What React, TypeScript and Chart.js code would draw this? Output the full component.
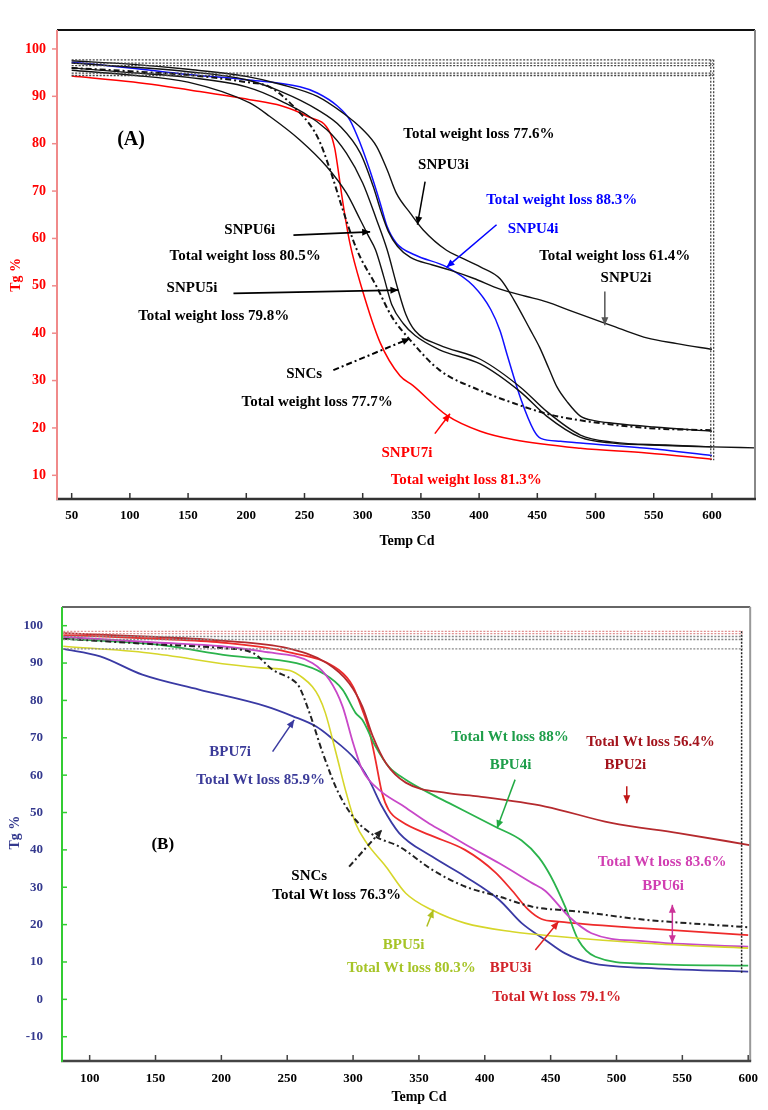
import React, { useEffect, useRef } from 'react';
import { Chart, registerables } from 'chart.js';
Chart.register(...registerables);

const FONT = "'Liberation Serif', 'Times New Roman', serif";

// ---------------- Panel A data ----------------
const xTicksA = [50, 100, 150, 200, 250, 300, 350, 400, 450, 500, 550, 600];
const yTicksA = [10, 20, 30, 40, 50, 60, 70, 80, 90, 100];

const snpu2iT = [50, 100, 150, 200, 230, 261, 281, 298, 309, 316, 322, 330, 341, 360, 375, 395, 418, 440, 458, 480, 506, 525, 544, 570, 600];
const snpu2iV = [97, 96.2, 95.2, 93.5, 91, 87.2, 83.6, 78, 71, 65.5, 61.5, 58.3, 56, 54.4, 53.3, 51.6, 49.3, 47.8, 46.6, 44.6, 42.3, 40.6, 39, 37.8, 36.6];

const snpu3iT = [50, 100, 150, 200, 230, 261, 283, 300, 312, 321, 329, 341, 352, 372, 384, 401, 418, 430, 444, 452, 460, 467, 476, 487, 500, 515, 550, 600];
const snpu3iV = [97.5, 96.8, 95.7, 94.2, 92.5, 90, 86.5, 83, 79.4, 74.5, 69.5, 65.3, 61.8, 57.5, 56, 54, 51.5, 47, 40.7, 37, 32.5, 28.6, 25.4, 22.5, 21.5, 21, 20.2, 19.3];

const snpu4iT = [50, 100, 150, 200, 246, 261, 278, 289, 298, 306, 315, 321, 329, 345, 372, 395, 410, 418, 424, 436, 447, 453, 470, 487, 544, 600];
const snpu4iV = [97.2, 96, 94.6, 93.5, 92, 90.7, 88, 85, 80, 74.5, 67.5, 62.5, 59, 56.5, 54, 50, 45, 40.5, 35.5, 26, 19.5, 17.8, 17.2, 16.8, 15.7, 14.2];

const snpu5iT = [50, 100, 150, 200, 230, 269, 286, 300, 312, 321, 330, 337, 345, 366, 401, 436, 458, 487, 515, 560, 600, 637];
const snpu5iV = [96, 95, 94, 92, 89, 83, 78, 71.7, 63.9, 57.6, 49.5, 44, 40.5, 37.5, 34.5, 28.5, 23.5, 18.5, 17, 16.4, 16, 15.8];

const snpu6iT = [50, 100, 150, 203, 220, 246, 269, 286, 298, 305, 311, 318, 325, 335, 345, 366, 401, 436, 458, 487, 515, 560, 600];
const snpu6iV = [95.5, 94.5, 93, 88.6, 85.8, 80.8, 75.2, 69.6, 63.9, 60.5, 57.6, 52, 46, 42, 39.5, 36.5, 33.5, 27.5, 22.5, 18, 16.8, 16.3, 16];

const snpu7iT = [50, 103, 160, 203, 230, 252, 272, 276, 278, 283, 289, 299, 315, 332, 343, 372, 401, 430, 487, 544, 600];
const snpu7iV = [94.3, 93, 91, 89.3, 88, 85.8, 82.3, 79, 76, 67.5, 59, 49.7, 38, 31, 29, 22.7, 19.3, 17.5, 15.7, 14.7, 13.4];

const sncsAT = [50, 100, 150, 200, 220, 240, 261, 272, 283, 295, 312, 325, 341, 366, 400, 430, 458, 487, 544, 600];
const sncsAV = [96, 95.3, 94.5, 93, 92, 88, 81.5, 74.5, 66, 57.6, 49.8, 43.5, 38.5, 32.2, 28, 25.2, 23, 21.6, 20, 19.5];

const frameAH = [97.7, 97.0, 96.5, 94.9, 94.4];
const frameAHT = [50, 601];
const frameAVT = [599, 601.5];
const frameAVV = [97.7, 13.2];

// ---------------- Panel B data ----------------
const xTicksB = [100, 150, 200, 250, 300, 350, 400, 450, 500, 550, 600];
const yTicksB = [-10, 0, 10, 20, 30, 40, 50, 60, 70, 80, 90, 100];

const bpu2iT = [80, 150, 200, 250, 280, 297, 307, 315, 325, 340, 372, 395, 446, 496, 547, 601];
const bpu2iV = [98, 97, 96, 94, 90, 84.6, 78.4, 70.4, 63.2, 58, 55.2, 54.3, 51.6, 47.2, 44.5, 41.3];

const bpu3iT = [80, 150, 200, 250, 289, 300, 307, 312, 317, 322, 327, 337, 358, 385, 408, 421, 433, 443, 456, 522, 600];
const bpu3iV = [97.5, 96.5, 95.5, 93, 88.2, 83.7, 77.5, 72.2, 64.1, 55.2, 50.7, 47.5, 44, 40, 34, 29, 24, 21.5, 20.8, 19, 17.2];

const bpu4iT = [80, 150, 206, 257, 277, 292, 302, 307, 317, 327, 340, 358, 373, 408, 428, 441, 450, 461, 471, 484, 522, 600];
const bpu4iV = [96.5, 95, 92, 90, 87.3, 82.9, 76.6, 74.8, 67.7, 62.3, 58.8, 55.2, 52.5, 46.2, 42.5, 38, 33, 24.8, 15.9, 11.4, 9.5, 9];

const bpu5iT = [80, 145, 206, 230, 252, 262, 269, 274, 279, 287, 295, 302, 310, 325, 340, 360, 385, 421, 456, 522, 600];
const bpu5iV = [94.5, 92.7, 89.6, 88.7, 88, 86, 83.7, 81, 76.6, 66, 55, 47, 42, 35.5, 28.4, 23.9, 20.4, 18.1, 16.8, 15, 13.7];

const bpu6iT = [80, 150, 200, 231, 269, 282, 292, 300, 307, 320, 337, 358, 373, 385, 411, 436, 446, 464, 481, 522, 600];
const bpu6iV = [97, 95.5, 94.5, 93.1, 90, 85.5, 78.4, 68.6, 61.4, 56, 52, 47, 44, 41.5, 36.4, 31.1, 29, 22.1, 17.7, 15.5, 14.1];

const bpu7iT = [80, 108, 140, 183, 234, 254, 272, 282, 302, 312, 322, 335, 360, 385, 411, 428, 446, 461, 481, 522, 600];
const bpu7iV = [93.8, 91.8, 86.9, 82.9, 78.4, 75.8, 73, 70.4, 64.1, 58.8, 51.6, 44.5, 38.2, 32.9, 26.6, 20.4, 15.9, 12.3, 9.7, 8.4, 7.4];

const sncsBT = [80, 150, 200, 224, 239, 254, 259, 267, 277, 289, 302, 317, 335, 360, 385, 411, 436, 471, 522, 600];
const sncsBV = [96.5, 95, 94, 92.7, 88.2, 85.5, 83.7, 76.6, 65.9, 55.2, 48, 43.6, 40.9, 34.7, 30.2, 27.5, 24.8, 23.5, 21.3, 19.3];

const frameBH = [98.5, 97.9, 97.1, 96.3, 93.8];
const frameBHT = [80, 596];
const frameBVT = [595];
const frameBVV = [98.5, 7];

// ---------------- annotations ----------------
type Label = { text: string; x: number; y: number; color: string; size?: number };
type Arrow = { from: [number, number]; to: [number, number]; color: string; dash?: number[]; both?: boolean; w?: number };

const labelsA: Label[] = [
  { text: '(A)', x: 101, y: 80.8, color: '#000', size: 20 },
  { text: 'Total weight loss 77.6%', x: 399.8, y: 82, color: '#000' },
  { text: 'SNPU3i', x: 369.4, y: 75.4, color: '#000' },
  { text: 'Total weight loss 88.3%', x: 471, y: 68.1, color: '#0000ff' },
  { text: 'SNPU4i', x: 446.4, y: 62, color: '#0000ff' },
  { text: 'Total weight loss 61.4%', x: 516.5, y: 56.3, color: '#000' },
  { text: 'SNPU2i', x: 526.2, y: 51.7, color: '#000' },
  { text: 'SNPU6i', x: 203, y: 61.8, color: '#000' },
  { text: 'Total weight loss 80.5%', x: 199, y: 56.2, color: '#000' },
  { text: 'SNPU5i', x: 153.4, y: 49.5, color: '#000' },
  { text: 'Total weight loss 79.8%', x: 172, y: 43.7, color: '#000' },
  { text: 'SNCs', x: 249.7, y: 31.3, color: '#000' },
  { text: 'Total weight loss 77.7%', x: 260.8, y: 25.4, color: '#000' },
  { text: 'SNPU7i', x: 338, y: 14.7, color: '#ff0000' },
  { text: 'Total weight loss 81.3%', x: 389, y: 8.9, color: '#ff0000' },
];
const arrowsA: Arrow[] = [
  { from: [353.6, 72], to: [347, 62.9], color: '#000' },
  { from: [415, 62.9], to: [372, 53.9], color: '#0000ff' },
  { from: [508, 48.8], to: [508, 41.7], color: '#555' },
  { from: [240.5, 60.7], to: [306.4, 61.4], color: '#000', w: 1.8 },
  { from: [189, 48.4], to: [330.7, 49.1], color: '#000', w: 1.8 },
  { from: [274.8, 32.2], to: [340.7, 38.9], color: '#000', dash: [6, 3, 2, 3], w: 2 },
  { from: [362, 18.8], to: [375, 23], color: '#ff0000' },
];

const labelsB: Label[] = [
  { text: '(B)', x: 155.5, y: 41.3, color: '#000', size: 17 },
  { text: 'BPU7i', x: 206.7, y: 66.2, color: '#3b3b99' },
  { text: 'Total Wt loss 85.9%', x: 229.8, y: 58.8, color: '#3b3b99' },
  { text: 'SNCs', x: 266.7, y: 33.1, color: '#000' },
  { text: 'Total Wt loss 76.3%', x: 287.5, y: 28, color: '#000' },
  { text: 'BPU5i', x: 338.4, y: 14.6, color: '#a6c427' },
  { text: 'Total Wt loss 80.3%', x: 344.3, y: 8.4, color: '#a6c427' },
  { text: 'BPU3i', x: 419.5, y: 8.3, color: '#d2232a' },
  { text: 'Total Wt loss 79.1%', x: 454.5, y: 0.7, color: '#d2232a' },
  { text: 'Total Wt loss 88%', x: 419.1, y: 70.2, color: '#1e9e4a' },
  { text: 'BPU4i', x: 419.5, y: 62.6, color: '#1e9e4a' },
  { text: 'Total Wt loss 56.4%', x: 525.8, y: 68.8, color: '#a3131c' },
  { text: 'BPU2i', x: 506.7, y: 62.6, color: '#a3131c' },
  { text: 'Total Wt loss 83.6%', x: 534.6, y: 36.6, color: '#d13eb2' },
  { text: 'BPU6i', x: 535.4, y: 30.2, color: '#d13eb2' },
];
const arrowsB: Arrow[] = [
  { from: [238.9, 66.3], to: [255.3, 74.8], color: '#3a3aa0' },
  { from: [297, 35.5], to: [322, 45.4], color: '#222', dash: [6, 3, 2, 3], w: 2 },
  { from: [356, 19.5], to: [361, 24], color: '#b0c020' },
  { from: [438.4, 13.2], to: [456, 20.8], color: '#e02020' },
  { from: [423, 58.8], to: [409.3, 45.8], color: '#22aa44' },
  { from: [507.8, 57], to: [507.8, 52.5], color: '#c01818' },
  { from: [542.4, 25.3], to: [542.4, 15], color: '#cc3399', both: true },
];

// ---------------- helpers ----------------
const pts = (t: number[], v: number[]) => t.map((x, i) => ({ x, y: v[i] }));

function curve(label: string, t: number[], v: number[], color: string, width = 1.4, dash: number[] = []) {
  return {
    label, data: pts(t, v), borderColor: color, borderWidth: width, borderDash: dash,
    pointRadius: 0, showLine: true, fill: false, cubicInterpolationMode: 'monotone' as const,
  };
}
function straight(label: string, t: number[], v: number[], color: string, width = 1.3, dash: number[] = [2, 2]) {
  return { label, data: pts(t, v), borderColor: color, borderWidth: width, borderDash: dash, pointRadius: 0, showLine: true, fill: false, tension: 0 };
}

function drawArrow(ctx: CanvasRenderingContext2D, x1: number, y1: number, x2: number, y2: number, a: Arrow) {
  ctx.save();
  ctx.strokeStyle = a.color; ctx.fillStyle = a.color; ctx.lineWidth = a.w ?? 1.5;
  ctx.setLineDash(a.dash ?? []);
  ctx.beginPath(); ctx.moveTo(x1, y1); ctx.lineTo(x2, y2); ctx.stroke();
  ctx.setLineDash([]);
  const head = (fx: number, fy: number, tx: number, ty: number) => {
    const ang = Math.atan2(ty - fy, tx - fx);
    const L = 8, W = 3.5;
    ctx.beginPath();
    ctx.moveTo(tx, ty);
    ctx.lineTo(tx - L * Math.cos(ang) + W * Math.sin(ang), ty - L * Math.sin(ang) - W * Math.cos(ang));
    ctx.lineTo(tx - L * Math.cos(ang) - W * Math.sin(ang), ty - L * Math.sin(ang) + W * Math.cos(ang));
    ctx.closePath(); ctx.fill();
  };
  head(x1, y1, x2, y2);
  if (a.both) head(x2, y2, x1, y1);
  ctx.restore();
}

type OverlayOpts = {
  frame: { top: string; right: string; bottom: string; left: string };
  yTickIn: boolean;
  labels: Label[]; arrows: Arrow[];
  xTitle: { text: string; x: number; dy: number; color: string };
  yTitle: { text: string; px: number; y: number; color: string };
};

function makeOverlay(o: OverlayOpts) {
  return {
    id: 'overlay',
    afterDraw(chart: any) {
      const { ctx, chartArea: ca, scales } = chart;
      const xs = scales.x, ys = scales.y;
      ctx.save();
      const line = (x1: number, y1: number, x2: number, y2: number, c: string, w: number) => {
        ctx.beginPath(); ctx.strokeStyle = c; ctx.lineWidth = w; ctx.moveTo(x1, y1); ctx.lineTo(x2, y2); ctx.stroke();
      };
      line(ca.left, ca.top, ca.right, ca.top, o.frame.top, 2);
      line(ca.right, ca.top, ca.right, ca.bottom, o.frame.right, 2);
      line(ca.left - 1, ca.bottom, ca.right + 1, ca.bottom, o.frame.bottom, 2.5);
      line(ca.left, ca.top, ca.left, ca.bottom + 1, o.frame.left, 2);
      for (const t of xs.ticks) {
        const px = xs.getPixelForValue(t.value);
        line(px, ca.bottom, px, ca.bottom - 6, o.frame.bottom, 1.5);
      }
      for (const t of ys.ticks) {
        const py = ys.getPixelForValue(t.value);
        line(ca.left, py, ca.left + (o.yTickIn ? 5 : -5), py, o.frame.left, 1.5);
      }
      for (const a of o.arrows) {
        drawArrow(ctx, xs.getPixelForValue(a.from[0]), ys.getPixelForValue(a.from[1]),
          xs.getPixelForValue(a.to[0]), ys.getPixelForValue(a.to[1]), a);
      }
      ctx.textAlign = 'center'; ctx.textBaseline = 'middle';
      for (const l of o.labels) {
        ctx.font = `bold ${l.size ?? 15}px ${FONT}`;
        ctx.fillStyle = l.color;
        ctx.fillText(l.text, xs.getPixelForValue(l.x), ys.getPixelForValue(l.y));
      }
      ctx.font = `bold 14px ${FONT}`;
      ctx.fillStyle = o.xTitle.color;
      ctx.fillText(o.xTitle.text, xs.getPixelForValue(o.xTitle.x), ca.bottom + o.xTitle.dy);
      ctx.save();
      ctx.translate(o.yTitle.px, ys.getPixelForValue(o.yTitle.y));
      ctx.rotate(-Math.PI / 2);
      ctx.fillStyle = o.yTitle.color;
      ctx.fillText(o.yTitle.text, 0, 0);
      ctx.restore();
      ctx.restore();
    },
  };
}

function baseScales(p: {
  xmin: number; xmax: number; ymin: number; ymax: number; xt: number[]; yt: number[];
  yw: number; xh: number; ycolor: string; ysize: number; ypad: number; xpad: number;
}) {
  return {
    x: {
      type: 'linear' as const, min: p.xmin, max: p.xmax,
      afterBuildTicks: (s: any) => { s.ticks = p.xt.map((value) => ({ value })); },
      afterFit: (s: any) => { s.height = p.xh; },
      grid: { display: false, drawTicks: false }, border: { display: false },
      ticks: { font: { family: FONT, size: 13, weight: 'bold' as const }, color: '#000', padding: p.xpad, maxRotation: 0, autoSkip: false },
    },
    y: {
      type: 'linear' as const, min: p.ymin, max: p.ymax,
      afterBuildTicks: (s: any) => { s.ticks = p.yt.map((value) => ({ value })); },
      afterFit: (s: any) => { s.width = p.yw; },
      grid: { display: false, drawTicks: false }, border: { display: false },
      ticks: { font: { family: FONT, size: p.ysize, weight: 'bold' as const }, color: p.ycolor, padding: p.ypad, autoSkip: false },
    },
  };
}

function configA(): any {
  const frames = [
    ...frameAH.map((h, i) => straight('fa' + i, frameAHT, frameAHT.map(() => h), '#444', 1.3, [2, 1.5])),
    ...frameAVT.map((t, i) => straight('fv' + i, [t, t], frameAVV, '#444', 1.3, [2, 1.5])),
  ];
  return {
    type: 'scatter',
    data: {
      datasets: [
        ...frames,
        curve('SNPU2i', snpu2iT, snpu2iV, '#111', 1.4),
        curve('SNPU3i', snpu3iT, snpu3iV, '#111', 1.4),
        curve('SNPU5i', snpu5iT, snpu5iV, '#111', 1.4),
        curve('SNPU6i', snpu6iT, snpu6iV, '#111', 1.4),
        curve('SNCs', sncsAT, sncsAV, '#111', 2, [6, 3, 2, 3]),
        curve('SNPU4i', snpu4iT, snpu4iV, '#1010ff', 1.5),
        curve('SNPU7i', snpu7iT, snpu7iV, '#ff0000', 1.5),
      ],
    },
    options: {
      responsive: false, animation: false, devicePixelRatio: 1,
      layout: { padding: { left: 0, top: 30, right: 13, bottom: 0 } },
      plugins: { legend: { display: false }, tooltip: { enabled: false } },
      scales: baseScales({ xmin: 37.4, xmax: 637, ymin: 5, ymax: 104, xt: xTicksA, yt: yTicksA, yw: 57, xh: 66, ycolor: '#ff0000', ysize: 14, ypad: 11, xpad: 9 }),
    },
    plugins: [makeOverlay({
      frame: { top: '#111', right: '#888', bottom: '#333', left: '#f08a8a' },
      yTickIn: false, labels: labelsA, arrows: arrowsA,
      xTitle: { text: 'Temp Cd', x: 338, dy: 42, color: '#000' },
      yTitle: { text: 'Tg %', px: 16, y: 52.3, color: '#ff0000' },
    })],
  };
}

function configB(): any {
  const frames = [
    ...frameBH.map((h, i) => straight('fb' + i, frameBHT, frameBHT.map(() => h), i < 2 ? '#e09090' : '#888', 1.3, [2, 1.5])),
    ...frameBVT.map((t, i) => straight('fbv' + i, [t, t], frameBVV, '#222', 1.5, [2, 1.5])),
  ];
  return {
    type: 'scatter',
    data: {
      datasets: [
        ...frames,
        curve('SNCs', sncsBT, sncsBV, '#222', 2, [6, 3, 2, 3]),
        curve('BPU2i', bpu2iT, bpu2iV, '#b52a2e', 1.8),
        curve('BPU5i', bpu5iT, bpu5iV, '#d6d62a', 1.6),
        curve('BPU6i', bpu6iT, bpu6iV, '#c848c8', 1.8),
        curve('BPU4i', bpu4iT, bpu4iV, '#2bb34c', 1.8),
        curve('BPU3i', bpu3iT, bpu3iV, '#ee2b2b', 1.8),
        curve('BPU7i', bpu7iT, bpu7iV, '#3a3aa4', 1.8),
      ],
    },
    options: {
      responsive: false, animation: false, devicePixelRatio: 1,
      layout: { padding: { left: 0, top: 42, right: 16, bottom: 0 } },
      plugins: { legend: { display: false }, tooltip: { enabled: false } },
      scales: baseScales({ xmin: 79, xmax: 601.5, ymin: -16.5, ymax: 105, xt: xTicksB, yt: yTicksB, yw: 62, xh: 49, ycolor: '#34398e', ysize: 13, ypad: 19, xpad: 10 }),
    },
    plugins: [makeOverlay({
      frame: { top: '#666', right: '#999', bottom: '#444', left: '#33cc33' },
      yTickIn: true, labels: labelsB, arrows: arrowsB,
      xTitle: { text: 'Temp Cd', x: 350, dy: 36, color: '#000' },
      yTitle: { text: 'Tg %', px: 15, y: 44.6, color: '#34398e' },
    })],
  };
}

function Panel({ make, top, height }: { make: () => any; top: number; height: number }) {
  const ref = useRef<HTMLCanvasElement>(null);
  useEffect(() => {
    const chart = new Chart(ref.current as HTMLCanvasElement, make());
    return () => chart.destroy();
  }, []);
  return (
    <canvas ref={ref} width={768} height={height}
      style={{ position: 'absolute', left: 0, top, width: 768, height, display: 'block' }} />
  );
}

export default function App() {
  return (
    <div style={{ position: 'absolute', left: 0, top: 0, width: 768, height: 1110, background: '#fff' }}>
      <Panel make={configA} top={0} height={565} />
      <Panel make={configB} top={565} height={545} />
    </div>
  );
}
